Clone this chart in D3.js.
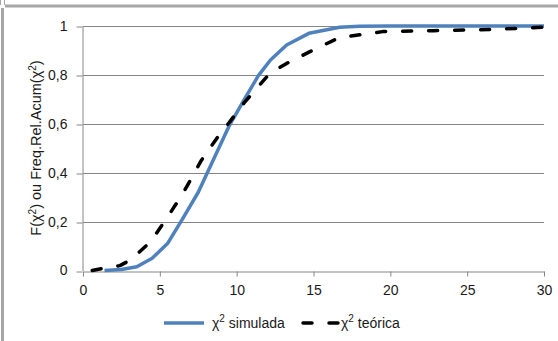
<!DOCTYPE html>
<html><head><meta charset="utf-8">
<script src="https://cdn.jsdelivr.net/npm/d3@7"></script>
<style>body{margin:0;background:#fff}text{font-family:"Liberation Sans",Arial,sans-serif;fill:#1a1a1a}</style>
</head><body><svg id="c" width="558" height="341"></svg>
<script>
const xTicks = [0, 5, 10, 15, 20, 25, 30];
const yTicks = [0, 0.2, 0.4, 0.6, 0.8, 1];
const yTickLabels = ["0", "0,2", "0,4", "0,6", "0,8", "1"];
const simX = [1.4, 2.5, 3.5, 4.5, 5.5, 6.5, 7.5, 8.5, 9.5, 10.5, 11.4, 12.2, 13.25, 14.7, 16.7, 18, 20, 25, 30];
const simF = [0, 0.004, 0.015, 0.05, 0.11, 0.213, 0.32, 0.455, 0.59, 0.70, 0.796, 0.861, 0.922, 0.970, 0.995, 0.999, 1, 1, 1];
const teoX = [0.6, 1.4, 2.4, 3.1, 4.4, 5.3, 6.3, 6.75, 7.7, 8.7, 9.56, 10.54, 12.17, 13.25, 14.77, 16.7, 19.5, 22.8, 26.5, 30];
const teoF = [0, 0.01, 0.02, 0.043, 0.118, 0.2, 0.295, 0.343, 0.45, 0.54, 0.609, 0.69, 0.807, 0.847, 0.895, 0.953, 0.977, 0.981, 0.986, 0.995];
const seriesNames = ["simulada", "teórica"];

const svg = d3.select("#c");
// frame
svg.append("line").attr("x1",5).attr("x2",558).attr("y1",6).attr("y2",6).attr("stroke","#a6a6a6").attr("stroke-width",3);
svg.append("line").attr("x1",2.5).attr("x2",2.5).attr("y1",8).attr("y2",341).attr("stroke","#a6a6a6").attr("stroke-width",3);
svg.append("line").attr("x1",0.5).attr("x2",0.5).attr("y1",0).attr("y2",5).attr("stroke","#a6a6a6").attr("stroke-width",1);
svg.append("line").attr("x1",4.5).attr("x2",4.5).attr("y1",0).attr("y2",5).attr("stroke","#a6a6a6").attr("stroke-width",1);

const x = d3.scaleLinear().domain([0,30]).range([83,544]);
const y = d3.scaleLinear().domain([0,1]).range([270.5,26]);

// gridlines
svg.append("g").selectAll("line").data(yTicks.slice(1)).join("line")
  .attr("x1",x(0)).attr("x2",x(30)).attr("y1",d=>Math.round(y(d))+0.5).attr("y2",d=>Math.round(y(d))+0.5)
  .attr("stroke","#868686").attr("stroke-width",1);

// y axis
const ya = svg.append("g").attr("transform",`translate(${x(0)-0.5},0)`)
  .call(d3.axisLeft(y).tickValues(yTicks).tickFormat((d,i)=>yTickLabels[i]).tickSize(6).tickPadding(9).tickSizeOuter(0));
ya.select(".domain").attr("stroke","#868686");
ya.selectAll(".tick line").attr("stroke","#868686").attr("transform",d=>`translate(0,${Math.round(y(d))+0.5-y(d)})`);
ya.selectAll("text").attr("font-size",14).style("font-family","Liberation Sans").attr("fill","#1a1a1a");

// x axis
const xa = svg.append("g").attr("transform",`translate(0,${Math.round(y(0))+0.5})`)
  .call(d3.axisBottom(x).tickValues(xTicks).tickSize(5).tickPadding(9).tickSizeOuter(0));
xa.select(".domain").attr("stroke","#868686");
xa.selectAll(".tick line").attr("stroke","#868686");
xa.selectAll("text").attr("font-size",14).style("font-family","Liberation Sans").attr("fill","#1a1a1a");

// series
const line = d3.line().x(d=>x(d[0])).y(d=>y(d[1]));
const simData = simX.map((v,i)=>[v, simF[i]]);
const teoData = teoX.map((v,i)=>[v, teoF[i]]);
svg.append("path").attr("d",line(simData)).attr("fill","none").attr("stroke","#4F81BD").attr("stroke-width",3.5).attr("stroke-linejoin","round");
svg.append("path").attr("d",line(teoData)).attr("fill","none").attr("stroke","#000").attr("stroke-width",3.5)
  .attr("stroke-dasharray","9,17").attr("stroke-linecap","round").attr("stroke-linejoin","round");

// y title
const yt = svg.append("text").attr("transform","translate(41,148) rotate(-90)").attr("text-anchor","middle").attr("font-size",14.5);
yt.append("tspan").text("F(χ");
yt.append("tspan").text("2").attr("font-size",10).attr("dy",-5);
yt.append("tspan").text(") ou Freq.Rel.Acum(χ").attr("dy",5);
yt.append("tspan").text("2").attr("font-size",10).attr("dy",-5);
yt.append("tspan").text(")").attr("dy",5);

// legend
const lg = svg.append("g");
lg.append("line").attr("x1",164).attr("x2",204).attr("y1",323).attr("y2",323).attr("stroke","#4F81BD").attr("stroke-width",3.5);
const t1 = lg.append("text").attr("x",212).attr("y",328).attr("font-size",14);
t1.append("tspan").text("χ");
t1.append("tspan").text("2").attr("font-size",10).attr("dy",-6);
t1.append("tspan").text(" " + seriesNames[0]).attr("dy",6);
lg.append("line").attr("x1",303).attr("x2",340).attr("y1",323).attr("y2",323).attr("stroke","#000").attr("stroke-width",3.5)
  .attr("stroke-dasharray","9,17").attr("stroke-linecap","round");
const t2 = lg.append("text").attr("x",341).attr("y",328).attr("font-size",14);
t2.append("tspan").text("χ");
t2.append("tspan").text("2").attr("font-size",10).attr("dy",-6);
t2.append("tspan").text("  " + seriesNames[1]).attr("dy",6);
</script></body></html>
